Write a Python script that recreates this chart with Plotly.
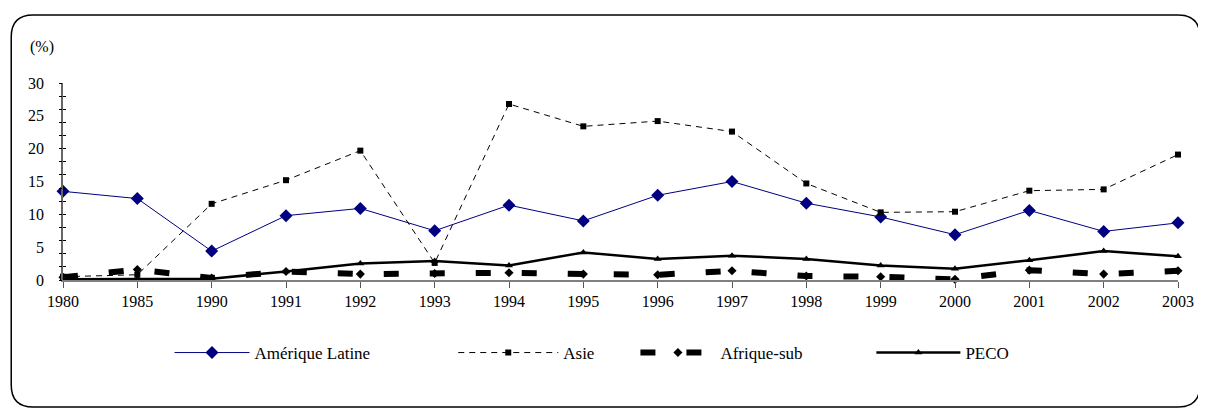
import plotly.graph_objects as go

years = ["1980", "1985", "1990", "1991", "1992", "1993", "1994", "1995",
         "1996", "1997", "1998", "1999", "2000", "2001", "2002", "2003"]
amerique_latine = [13.5, 12.4, 4.4, 9.8, 10.9, 7.5, 11.4, 9.0,
                   12.9, 15.0, 11.7, 9.6, 6.9, 10.6, 7.4, 8.7]
asie = [0.5, 0.8, 11.6, 15.2, 19.7, 2.6, 26.8, 23.4,
        24.2, 22.6, 14.7, 10.3, 10.4, 13.6, 13.8, 19.1]
afrique_sub = [0.4, 1.6, 0.3, 1.3, 0.9, 1.0, 1.1, 0.9,
               0.8, 1.4, 0.6, 0.5, 0.1, 1.5, 0.9, 1.4]
peco = [0.1, 0.1, 0.2, 1.3, 2.5, 2.9, 2.2, 4.2,
        3.2, 3.7, 3.2, 2.2, 1.7, 3.0, 4.4, 3.6]

y_label_ticks = [0, 5, 10, 15, 20, 25, 30]
y_minor_ticks = list(range(0, 31, 2))

FONT = "Times New Roman, Liberation Serif, serif"

OFF = 8  # page body margin
W, H = 1206 - OFF, 408 - OFF
L, R, T, B = 63 - OFF, 23, 83 - OFF, 128
PW, PH = W - L - R, H - T - B


def fx(px):
    return (px - OFF - L) / PW


def fy(py):
    return (H - B - (py - OFF)) / PH


fig = go.Figure()

fig.add_trace(go.Scatter(
    x=years, y=amerique_latine, name="Amérique Latine", mode="lines+markers",
    line=dict(color="#000080", width=1),
    marker=dict(symbol="diamond", size=10, color="#000080"),
    cliponaxis=False, legend="legend"))
fig.add_trace(go.Scatter(
    x=years, y=asie, name="Asie", mode="lines+markers",
    line=dict(color="black", width=1, dash="6px,5px"),
    marker=dict(symbol="square", size=6, color="black"),
    cliponaxis=False, legend="legend2"))
fig.add_trace(go.Scatter(
    x=years, y=afrique_sub, name="Afrique-sub", mode="lines+markers",
    line=dict(color="black", width=6, dash="15px,31px"),
    marker=dict(symbol="diamond", size=7, color="black"),
    cliponaxis=False, legend="legend3"))
fig.add_trace(go.Scatter(
    x=years, y=peco, name="PECO", mode="lines+markers",
    line=dict(color="black", width=2.5),
    marker=dict(symbol="triangle-up", size=7, color="black"),
    cliponaxis=False, legend="legend4"))

# rounded chart border
xl, xr, yt, yb, r = 11, 1205, 15, 407, 22
pts = lambda a, b: f"{fx(a):.5f},{fy(b):.5f}"
path = (f"M {pts(xl + r, yt)} L {pts(xr - r, yt)} Q {pts(xr, yt)} {pts(xr, yt + r)} "
        f"L {pts(xr, yb - r)} Q {pts(xr, yb)} {pts(xr - r, yb)} "
        f"L {pts(xl + r, yb)} Q {pts(xl, yb)} {pts(xl, yb - r)} "
        f"L {pts(xl, yt + r)} Q {pts(xl, yt)} {pts(xl + r, yt)} Z")
fig.add_shape(type="path", path=path, xref="paper", yref="paper",
              line=dict(color="black", width=1.5), layer="below")

leg_common = dict(orientation="h", yanchor="middle", xanchor="left",
                  bgcolor="rgba(0,0,0,0)",
                  font=dict(family=FONT, size=17, color="black"))

fig.update_layout(
    width=W, height=H,
    margin=dict(l=L, r=R, t=T, b=B, pad=0),
    paper_bgcolor="white", plot_bgcolor="white",
    font=dict(family=FONT, size=16, color="black"),
    xaxis=dict(type="category", range=[0, len(years) - 1],
               showgrid=False, zeroline=False,
               showline=True, linecolor="#808080", linewidth=1.5,
               ticks="outside", ticklen=6, tickcolor="#555", tickwidth=1,
               tickfont=dict(family=FONT, size=16, color="black")),
    yaxis=dict(range=[0, 30], showgrid=False, zeroline=False,
               tickvals=y_label_ticks, ticks="", showline=True,
               linecolor="#666", linewidth=1.5,
               ticklabelstandoff=14,
               tickfont=dict(family=FONT, size=16, color="black")),
    yaxis2=dict(range=[0, 30], overlaying="y", side="left", anchor="x",
                showgrid=False, zeroline=False, showticklabels=False,
                tickvals=y_minor_ticks, ticks="outside", ticklen=3,
                tickcolor="black", tickwidth=1, showline=False),
    yaxis3=dict(range=[0, 30], overlaying="y", side="left", anchor="x",
                showgrid=False, zeroline=False, showticklabels=False,
                tickvals=y_minor_ticks, ticks="inside", ticklen=3,
                tickcolor="black", tickwidth=1, showline=False),
    legend=dict(x=fx(170), y=fy(353), itemwidth=75, **leg_common),
    legend2=dict(x=fx(455), y=fy(353), itemwidth=100, **leg_common),
    legend3=dict(x=fx(638), y=fy(353), itemwidth=75, **leg_common),
    legend4=dict(x=fx(875), y=fy(353), itemwidth=84, **leg_common),
    annotations=[dict(text="(%)", x=fx(42), y=fy(47), xref="paper", yref="paper",
                      showarrow=False, xanchor="center", yanchor="middle",
                      font=dict(family=FONT, size=16, color="black"))],
)

# invisible traces to activate the overlay tick axes
fig.add_trace(go.Scatter(x=[years[0]], y=[0], yaxis="y2", showlegend=False,
                         mode="markers", marker=dict(opacity=0), hoverinfo="skip"))
fig.add_trace(go.Scatter(x=[years[0]], y=[0], yaxis="y3", showlegend=False,
                         mode="markers", marker=dict(opacity=0), hoverinfo="skip"))

fig.write_html("out.html")
